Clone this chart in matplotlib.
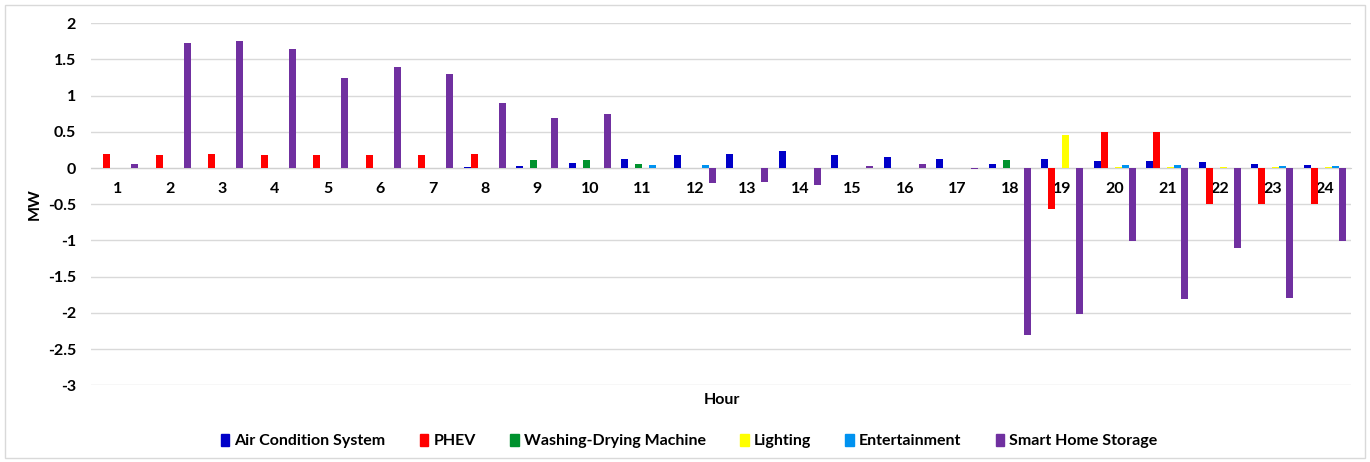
import matplotlib.pyplot as plt
import matplotlib.patches as mpatches
import numpy

plt.rcParams['font.family'] = ['Lato', 'DejaVu Sans']
plt.rcParams['font.weight'] = 'bold'

# Data (MW per hour)

hours = numpy.arange(1, 25)

air_condition = [0, 0, 0, 0, 0, 0, 0, 0.02, 0.03, 0.065, 0.12, 0.175,
                 0.19, 0.23, 0.185, 0.15, 0.13, 0.05, 0.12, 0.10, 0.09, 0.08, 0.06, 0.04]
phev = [0.20, 0.185, 0.20, 0.18, 0.18, 0.18, 0.18, 0.19, 0, 0, 0, 0,
        0, 0, 0, 0, 0, 0, -0.56, 0.50, 0.50, -0.50, -0.50, -0.50]
washing_drying = [0, 0, 0, 0, 0, 0, 0, 0, 0.11, 0.11, 0.06, 0,
                  0, 0, 0, 0, 0, 0.11, 0, 0, 0, 0, 0, 0]
lighting = [0, 0, 0, 0, 0, 0, 0, 0, 0, 0, 0, 0,
            0, 0, 0, 0, 0, 0, 0.46, 0.01, 0.01, 0.01, 0.01, 0.01]
entertainment = [0, 0, 0, 0, 0, 0, 0, 0, 0, 0, 0.035, 0.035,
                 0, 0, 0, 0, 0, 0, 0, 0.045, 0.04, 0, 0.03, 0.03]
storage = [0.05, 1.72, 1.75, 1.64, 1.24, 1.40, 1.30, 0.89, 0.69, 0.75, 0, -0.21,
           -0.19, -0.23, 0.03, 0.06, -0.01, -2.30, -2.01, -1.01, -1.81, -1.10, -1.80, -1.01]

series = [
    ("Air Condition System", air_condition, "#0000C8"),
    ("PHEV", phev, "#FF0000"),
    ("Washing-Drying Machine", washing_drying, "#00922E"),
    ("Lighting", lighting, "#FFFF00"),
    ("Entertainment", entertainment, "#0092F0"),
    ("Smart Home Storage", storage, "#7030A0"),
]

y_ticks = [2, 1.5, 1, 0.5, 0, -0.5, -1, -1.5, -2, -2.5, -3]

# Plot

fig = plt.figure(figsize=(13.7, 4.62), dpi=100)
ax = fig.add_axes([0.0666, 0.1656, 0.9197, 0.7846])

bar_w = 0.8 / len(series)
for i, (name, vals, col) in enumerate(series):
    ax.bar(hours + (i - 2.5) * bar_w, vals, width=bar_w, color=col,
           label=name, zorder=3)

ax.set_xlim(0.5, 24.5)
ax.set_ylim(-3, 2)
ax.set_yticks(y_ticks, labels=[f"{t:g}" for t in y_ticks])
ax.set_xticks(hours, labels=[str(h) for h in hours])
ax.grid(axis="y", color="#D9D9D9", linewidth=1, zorder=0)

for s in ["top", "right", "left"]:
    ax.spines[s].set_visible(False)
ax.spines["bottom"].set_position(("data", 0))
ax.spines["bottom"].set_color("#D0D0D0")
ax.spines["bottom"].set_zorder(2)

fs = 11.5
ax.tick_params(axis="both", length=0, labelsize=fs)
ax.tick_params(axis="x", pad=10)
ax.tick_params(axis="y", pad=11)

ax.set_ylabel("MW", fontsize=fs, fontweight="bold", labelpad=4)
fig.text(722 / 1370, 1 - 400 / 462, "Hour", ha="center", va="center",
         fontsize=fs, fontweight="bold")

handles = [mpatches.Patch(color=c, label=n) for n, _, c in series]
fig.legend(handles=handles, loc="center", bbox_to_anchor=(689 / 1370, 1 - 441 / 462),
           ncol=6, frameon=False, fontsize=fs, handlelength=0.55, handleheight=0.8,
           handletextpad=0.3, columnspacing=2.15)

# light border round the chart
fig.patches.append(mpatches.Rectangle((0.004, 0.008), 0.992, 0.982, transform=fig.transFigure,
                                      fill=False, edgecolor="#D9D9D9", linewidth=1))

fig.savefig("out.png", dpi=100)
